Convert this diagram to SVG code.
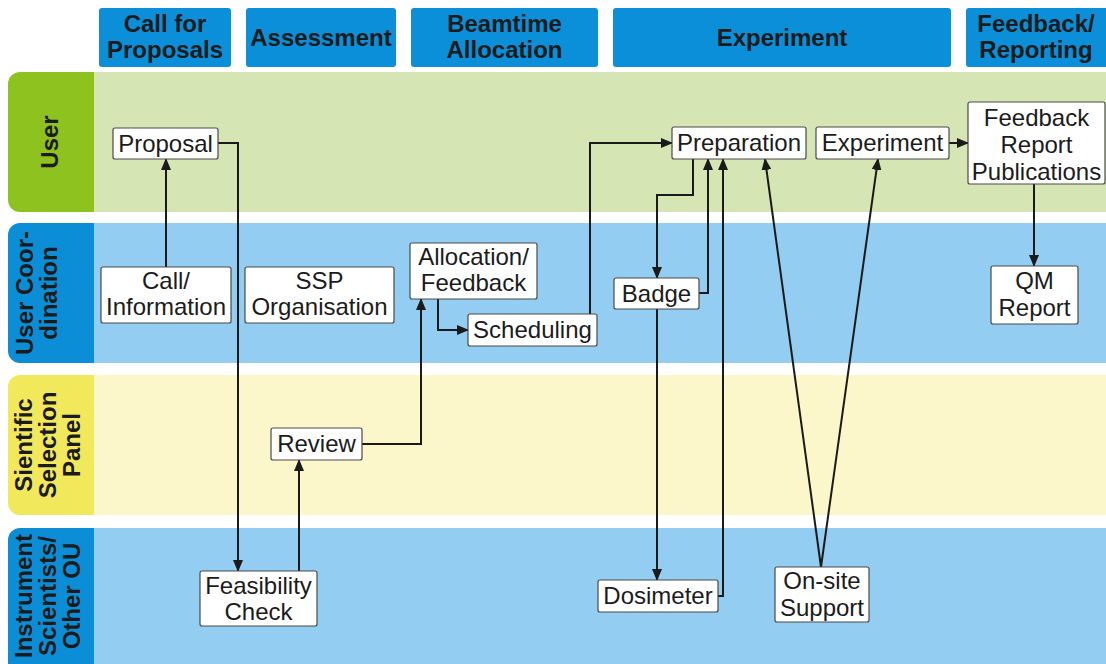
<svg xmlns="http://www.w3.org/2000/svg" width="1106" height="664" viewBox="0 0 1106 664">
<defs>
<style>
.hdr{fill:#0a8fd8}
.ht{font-family:"Liberation Sans",Arial,sans-serif;font-weight:bold;font-size:24px;fill:#1b1b1b;text-anchor:middle}
.lt{font-family:"Liberation Sans",Arial,sans-serif;font-weight:bold;font-size:24px;fill:#1b1b1b;text-anchor:middle}
.node rect{fill:#ffffff;stroke:#4a4a4a;stroke-width:1.2}
.node text{font-family:"Liberation Sans",Arial,sans-serif;font-size:24px;fill:#1b1b1b;text-anchor:middle}
.conn{fill:none;stroke:#1a1a1a;stroke-width:2}
</style>
<marker id="ah" markerWidth="12" markerHeight="10" refX="11" refY="5" orient="auto" markerUnits="userSpaceOnUse">
<path d="M0,0 L12,5 L0,10 z" fill="#1a1a1a"/>
</marker>
</defs>
<rect x="0" y="0" width="1106" height="664" fill="#ffffff"/>

<g id="headers">
<rect class="hdr" x="99" y="8" width="132" height="59" rx="3"/>
<text class="ht" x="165" y="32">Call for</text>
<text class="ht" x="165" y="58">Proposals</text>
<rect class="hdr" x="246" y="8" width="150" height="59" rx="3"/>
<text class="ht" x="321" y="46">Assessment</text>
<rect class="hdr" x="411" y="8" width="187" height="59" rx="3"/>
<text class="ht" x="504.5" y="32">Beamtime</text>
<text class="ht" x="504.5" y="58">Allocation</text>
<rect class="hdr" x="613" y="8" width="338" height="59" rx="3"/>
<text class="ht" x="782" y="46">Experiment</text>
<rect class="hdr" x="966" y="8" width="145" height="59" rx="3"/>
<text class="ht" x="1036" y="32">Feedback/</text>
<text class="ht" x="1036" y="58">Reporting</text>
</g>

<g id="lane-user">
<rect x="94" y="72" width="1012" height="140" fill="#d5e6b4"/>
<path d="M94,72 H20 A12,12 0 0 0 8,84 V200 A12,12 0 0 0 20,212 H94 Z" fill="#8dc21f"/>
<text class="lt" transform="translate(0,142) rotate(-90)" x="0" y="58">User</text>
</g>
<g id="lane-coordination">
<rect x="94" y="223" width="1012" height="140" fill="#93cdf1"/>
<path d="M94,223 H20 A12,12 0 0 0 8,235 V351 A12,12 0 0 0 20,363 H94 Z" fill="#0b8ed6"/>
<text class="lt" transform="translate(0,293) rotate(-90)"><tspan x="0" y="33">User Coor-</tspan><tspan x="0" y="57">dination</tspan></text>
</g>
<g id="lane-panel">
<rect x="94" y="375" width="1012" height="140" fill="#fbf7cb"/>
<path d="M94,375 H20 A12,12 0 0 0 8,387 V503 A12,12 0 0 0 20,515 H94 Z" fill="#f2e85c"/>
<text class="lt" transform="translate(0,445) rotate(-90)"><tspan x="0" y="32">Sientific</tspan><tspan x="0" y="56">Selection</tspan><tspan x="0" y="80">Panel</tspan></text>
</g>
<g id="lane-instrument">
<rect x="94" y="528" width="1012" height="136" fill="#93cdf1"/>
<path d="M94,528 H20 A12,12 0 0 0 8,540 V664 H94 Z" fill="#0b8ed6"/>
<text class="lt" transform="translate(0,596) rotate(-90)"><tspan x="0" y="32">Instrument</tspan><tspan x="0" y="56">Scientists/</tspan><tspan x="0" y="80">Other OU</tspan></text>
</g>

<g id="connectors">
<path class="conn" marker-end="url(#ah)" d="M166,267 V159"/>
<path class="conn" marker-end="url(#ah)" d="M218,143 H238 V571"/>
<path class="conn" marker-end="url(#ah)" d="M299,571 V460"/>
<path class="conn" marker-end="url(#ah)" d="M362,444 H421 V299"/>
<path class="conn" marker-end="url(#ah)" d="M438,299 V330 H468"/>
<path class="conn" marker-end="url(#ah)" d="M590,314 V143 H672"/>
<path class="conn" marker-end="url(#ah)" d="M693,159 V195 H657 V278"/>
<path class="conn" marker-end="url(#ah)" d="M699,293 H708 V159"/>
<path class="conn" marker-end="url(#ah)" d="M657,309 V580"/>
<path class="conn" marker-end="url(#ah)" d="M718,596 H723 V159"/>
<path class="conn" marker-end="url(#ah)" d="M821,567 L765,159"/>
<path class="conn" marker-end="url(#ah)" d="M821,567 L878,159"/>
<path class="conn" marker-end="url(#ah)" d="M949,143 H968"/>
<path class="conn" marker-end="url(#ah)" d="M1034,184 V266"/>
</g>

<g id="n-proposal" class="node"><rect x="113" y="128" width="105" height="31" rx="2"/><text x="165.5" y="152">Proposal</text></g>
<g id="n-call" class="node"><rect x="101" y="267" width="130" height="56" rx="2"/><text x="166" y="289">Call/</text><text x="166" y="315">Information</text></g>
<g id="n-ssp" class="node"><rect x="245" y="267" width="149" height="56" rx="2"/><text x="319.5" y="289">SSP</text><text x="319.5" y="315">Organisation</text></g>
<g id="n-allocation" class="node"><rect x="410" y="243" width="127" height="56" rx="2"/><text x="473.5" y="265">Allocation/</text><text x="473.5" y="291">Feedback</text></g>
<g id="n-scheduling" class="node"><rect x="468" y="314" width="129" height="32" rx="2"/><text x="532.5" y="338">Scheduling</text></g>
<g id="n-review" class="node"><rect x="271" y="428" width="91" height="32" rx="2"/><text x="316.5" y="452">Review</text></g>
<g id="n-feasibility" class="node"><rect x="200" y="571" width="117" height="55" rx="2"/><text x="258.5" y="594">Feasibility</text><text x="258.5" y="620">Check</text></g>
<g id="n-preparation" class="node"><rect x="672" y="127" width="134" height="32" rx="2"/><text x="739" y="151">Preparation</text></g>
<g id="n-experiment" class="node"><rect x="816" y="127" width="133" height="32" rx="2"/><text x="882.5" y="151">Experiment</text></g>
<g id="n-feedback" class="node"><rect x="968" y="102" width="137" height="82" rx="2"/><text x="1036.5" y="126">Feedback</text><text x="1036.5" y="153">Report</text><text x="1036.5" y="180">Publications</text></g>
<g id="n-badge" class="node"><rect x="614" y="278" width="85" height="31" rx="2"/><text x="656.5" y="302">Badge</text></g>
<g id="n-qm" class="node"><rect x="991" y="266" width="87" height="58" rx="2"/><text x="1034.5" y="289">QM</text><text x="1034.5" y="316">Report</text></g>
<g id="n-dosimeter" class="node"><rect x="598" y="580" width="120" height="32" rx="2"/><text x="658" y="604">Dosimeter</text></g>
<g id="n-onsite" class="node"><rect x="775" y="567" width="94" height="55" rx="2"/><text x="822" y="589">On-site</text><text x="822" y="616">Support</text></g>
</svg>
